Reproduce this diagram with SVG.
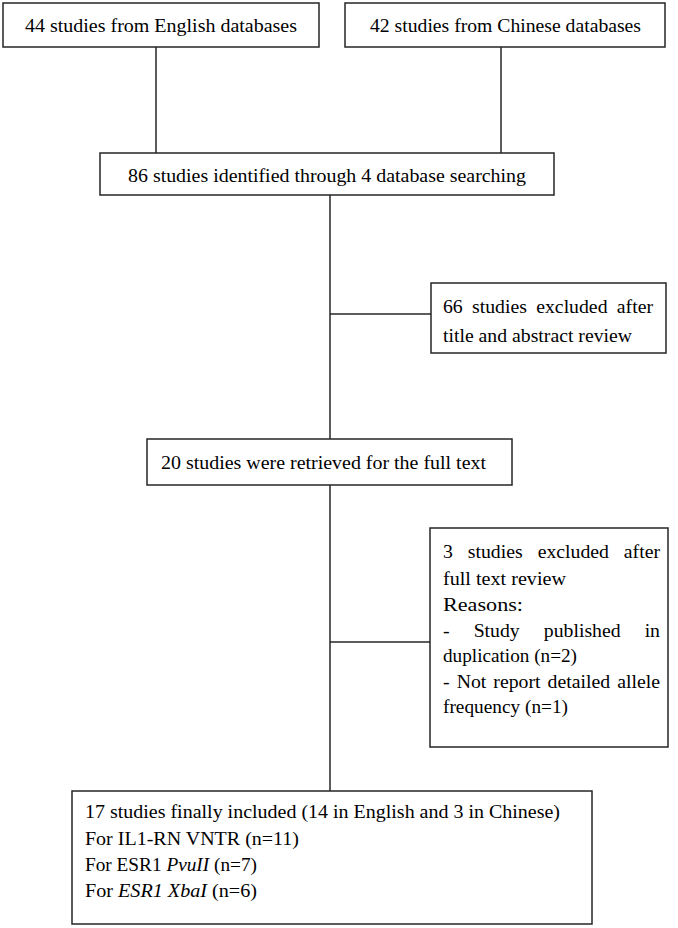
<svg xmlns="http://www.w3.org/2000/svg" width="678" height="928" viewBox="0 0 678 928">
<style>
.box{fill:#fff;stroke:#262626;stroke-width:1.5}
.ln{stroke:#262626;stroke-width:1.5;fill:none}
text{font-family:"Liberation Serif","Times New Roman",serif;font-size:18.5px;fill:#000}
.i{font-style:italic}
</style>
<rect width="678" height="928" fill="#fff"/>
<g id="connectors">
<line class="ln" x1="156" y1="47" x2="156" y2="153"/>
<line class="ln" x1="501" y1="47" x2="501" y2="153"/>
<line class="ln" x1="330" y1="195" x2="330" y2="439"/>
<line class="ln" x1="330" y1="314" x2="431" y2="314"/>
<line class="ln" x1="330" y1="485" x2="330" y2="791"/>
<line class="ln" x1="330" y1="642" x2="430" y2="642"/>
</g>
<g id="n1">
<rect class="box" x="3" y="3" width="316" height="44"/>
<text x="25" y="32" textLength="272" lengthAdjust="spacingAndGlyphs">44 studies from English databases</text>
</g>
<g id="n2">
<rect class="box" x="345" y="3" width="320" height="44"/>
<text x="370" y="32" textLength="271" lengthAdjust="spacingAndGlyphs">42 studies from Chinese databases</text>
</g>
<g id="n3">
<rect class="box" x="100" y="153" width="454" height="42"/>
<text x="128" y="182" textLength="398" lengthAdjust="spacingAndGlyphs">86 studies identified through 4 database searching</text>
</g>
<g id="n4">
<rect class="box" x="431" y="283" width="235" height="70"/>
<text x="443" y="313" word-spacing="4.1" textLength="210" lengthAdjust="spacingAndGlyphs">66 studies excluded after</text>
<text x="443" y="342" textLength="189" lengthAdjust="spacingAndGlyphs">title and abstract review</text>
</g>
<g id="n5">
<rect class="box" x="147" y="439" width="365" height="46"/>
<text x="161" y="469" textLength="325" lengthAdjust="spacingAndGlyphs">20 studies were retrieved for the full text</text>
</g>
<g id="n6">
<rect class="box" x="430" y="528" width="238" height="219"/>
<text x="443" y="558" word-spacing="9.4" textLength="217" lengthAdjust="spacingAndGlyphs">3 studies excluded after</text>
<text x="443" y="585" textLength="123" lengthAdjust="spacingAndGlyphs">full text review</text>
<text x="443" y="611" textLength="80" lengthAdjust="spacingAndGlyphs">Reasons:</text>
<text x="443" y="637" word-spacing="17.9" textLength="217" lengthAdjust="spacingAndGlyphs">- Study published in</text>
<text x="443" y="662" textLength="134" lengthAdjust="spacingAndGlyphs">duplication (n=2)</text>
<text x="443" y="688" word-spacing="2" textLength="217" lengthAdjust="spacingAndGlyphs">- Not report detailed allele</text>
<text x="443" y="713" textLength="125" lengthAdjust="spacingAndGlyphs">frequency (n=1)</text>
</g>
<g id="n7">
<rect class="box" x="72" y="791" width="520" height="133"/>
<text x="85" y="818" textLength="475" lengthAdjust="spacingAndGlyphs">17 studies finally included (14 in English and 3 in Chinese)</text>
<text x="85" y="845" textLength="214" lengthAdjust="spacingAndGlyphs">For IL1-RN VNTR (n=11)</text>
<text x="85" y="871" textLength="172" lengthAdjust="spacingAndGlyphs">For ESR1 <tspan class="i">PvuII</tspan> (n=7)</text>
<text x="85" y="897" textLength="172" lengthAdjust="spacingAndGlyphs">For <tspan class="i">ESR1 XbaI</tspan> (n=6)</text>
</g>
</svg>
